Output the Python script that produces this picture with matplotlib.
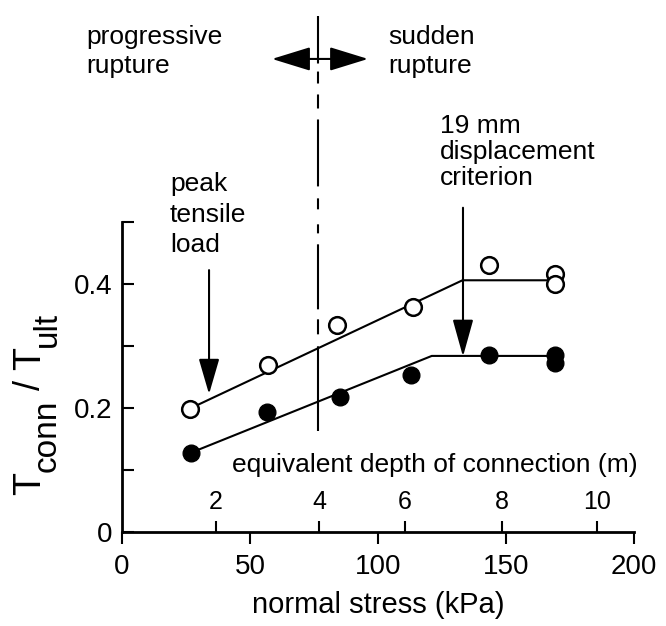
import matplotlib
matplotlib.use("Agg")
import matplotlib.pyplot as plt
from matplotlib.transforms import IdentityTransform

plt.rcParams['font.family'] = ['Liberation Sans', 'DejaVu Sans']
plt.rcParams['lines.scale_dashes'] = False

# Data
stress_open = [26.5, 57, 84, 113.5, 143.5, 169, 169]
ratio_open = [0.198, 0.270, 0.334, 0.363, 0.430, 0.416, 0.400]
stress_filled = [27, 56.5, 85, 113, 143.5, 169, 169]
ratio_filled = [0.127, 0.194, 0.218, 0.254, 0.286, 0.286, 0.272]

# Bilinear trend lines
fit_open_x = [27, 133, 169]
fit_open_y = [0.200, 0.406, 0.406]
fit_filled_x = [27, 121, 169]
fit_filled_y = [0.128, 0.284, 0.284]

# Equivalent depth (m) marks placed on the stress axis
depth_labels = ["2", "4", "6", "8", "10"]
depth_at_stress = [36.7, 77, 110.5, 148.4, 185.5]

stress_ticks = [0, 50, 100, 150, 200]
ratio_ticks = [0, 0.1, 0.2, 0.3, 0.4, 0.5]
ratio_labels = ["0", "", "0.2", "", "0.4", ""]

boundary_stress = 76.6   # progressive / sudden rupture boundary
peak_stress = 34
criterion_stress = 133.2

# Figure
fig = plt.figure(figsize=(6.66, 6.26), dpi=100)
ax = fig.add_axes([122 / 666, 94 / 626, 512 / 666, 310 / 626])
ax.set_xlim(0, 200)
ax.set_ylim(0, 0.5)

for side in ['top', 'right']:
  ax.spines[side].set_visible(False)
for side in ['left', 'bottom']:
  ax.spines[side].set_linewidth(2)

ax.set_xticks(stress_ticks)
ax.set_xticks(depth_at_stress, labels=depth_labels, minor=True)
ax.set_yticks(ratio_ticks, labels=ratio_labels)
ax.tick_params(axis='y', direction='in', length=8.5, width=1.5, labelsize=20, pad=7)
ax.tick_params(axis='x', which='major', direction='out', length=8.5, width=1.5, labelsize=20, pad=7)
ax.tick_params(axis='x', which='minor', direction='in', length=8, width=1.5, labelsize=18, pad=-30)
ax.set_xlabel("normal stress (kPa)", fontsize=21, labelpad=8)

# Trend lines and points
ax.plot(fit_open_x, fit_open_y, color='black', lw=1.5, zorder=2)
ax.plot(fit_filled_x, fit_filled_y, color='black', lw=1.5, zorder=2)
ax.plot(stress_open, ratio_open, 'o', ms=12, mfc='white', mec='black', mew=1.8, zorder=3)
ax.plot(stress_filled, ratio_filled, 'o', ms=12, color='black', zorder=3)

# Rupture boundary (drawn bottom to top, long and short dashes as in the original)
boundary_dashes = [61, 8.6, 10.8, 7.2, 46.8, 7.9, 6.5, 10.8, 7.9, 8.6, 48.2, 7.9, 10.1, 7.9, 8.6, 5.8, 40]
ax.plot([boundary_stress, boundary_stress], [0.163, 0.832], color='black', lw=1.5,
        ls=(0, boundary_dashes), clip_on=False)
ax.annotate('', xy=(58.6, 0.763), xytext=(96.1, 0.763), annotation_clip=False,
            arrowprops=dict(arrowstyle='<|-|>,head_length=1.2,head_width=0.37',
                            mutation_scale=20, lw=1.5, color='black', shrinkA=0, shrinkB=0))
ax.text(-14, 0.741, "progressive\nrupture", fontsize=19, va='baseline', linespacing=1.25)
ax.text(104, 0.741, "sudden\nrupture", fontsize=19, va='baseline', linespacing=1.25)

# Peak load and displacement criterion
ax.annotate('', xy=(peak_stress, 0.2224), xytext=(peak_stress, 0.4224), annotation_clip=False,
            arrowprops=dict(arrowstyle='-|>,head_length=1.1,head_width=0.32',
                            mutation_scale=20, lw=1.5, color='black', shrinkA=0, shrinkB=0))
ax.text(18.75, 0.451, "peak\ntensile\nload", fontsize=19, va='baseline', linespacing=1.35)
ax.annotate('', xy=(criterion_stress, 0.283), xytext=(criterion_stress, 0.523), annotation_clip=False,
            arrowprops=dict(arrowstyle='-|>,head_length=1.15,head_width=0.32',
                            mutation_scale=20, lw=1.5, color='black', shrinkA=0, shrinkB=0))
ax.text(124.2, 0.56, "19 mm\ndisplacement\ncriterion", fontsize=19, va='baseline', linespacing=1.1)
ax.text(43, 0.096, "equivalent depth of connection (m)", fontsize=19, va='baseline')

# Y label, T with large subscripts, stacked piece by piece
ylabel_parts = [("T", 27, 0), ("conn", 24, 16), (" / ", 26, 0), ("T", 27, 0), ("ult", 24, 16)]
fig.canvas.draw()
renderer = fig.canvas.get_renderer()
pos = 626 - 495
for s, size, shift in ylabel_parts:
  t = fig.text(40 + shift, pos, s, fontsize=size, rotation=90, rotation_mode='anchor',
               ha='left', va='baseline', transform=IdentityTransform())
  pos += t.get_window_extent(renderer).height

fig.savefig("out.png", dpi=100)
